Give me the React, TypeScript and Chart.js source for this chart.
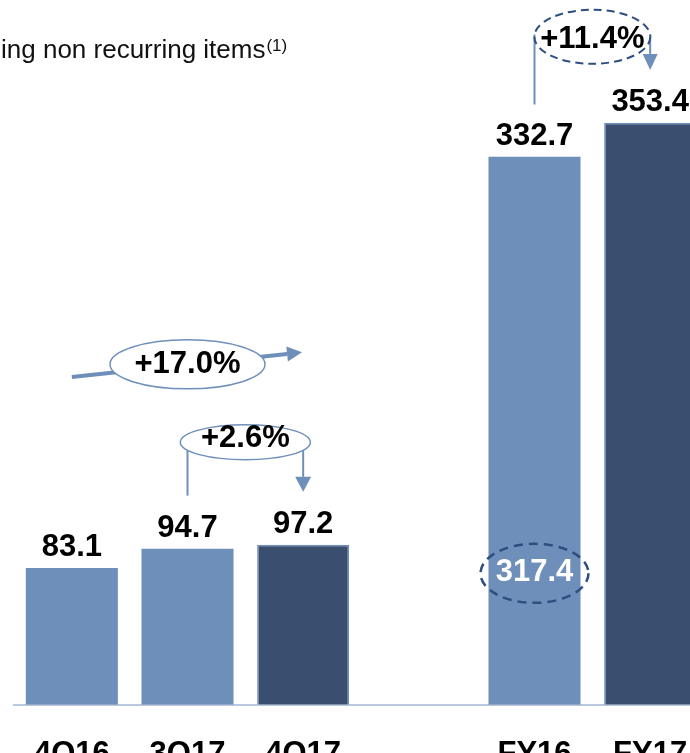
import React, { useEffect, useRef } from "react";
import { Chart, registerables } from "chart.js";

Chart.register(...registerables);

const categories = ["4Q16", "3Q17", "4Q17", "", "FY16", "FY17"];
const values: (number | null)[] = [83.1, 94.7, 97.2, null, 332.7, 353.4];
const valueLabels = ["83.1", "94.7", "97.2", "", "332.7", "353.4"];
const isCurrent = [false, false, true, false, false, true];
const titleText = "ing non recurring items";
const titleNote = "(1)";
const growthQoQ = "+2.6%";
const growthYoY = "+17.0%";
const growthFY = "+11.4%";
const reportedFY16 = "317.4";

const LIGHT = "#6f8fbb";
const DARK = "#3a4e6f";
const DASH_BLUE = "#2d4f80";
const FONT = '"Liberation Sans", Arial, sans-serif';

function arrowLine(
  ctx: CanvasRenderingContext2D,
  x1: number, y1: number, x2: number, y2: number,
  lw: number, headLen: number, headW: number, color: string
) {
  const ang = Math.atan2(y2 - y1, x2 - x1);
  const bx = x2 - Math.cos(ang) * headLen;
  const by = y2 - Math.sin(ang) * headLen;
  ctx.save();
  ctx.strokeStyle = color;
  ctx.fillStyle = color;
  ctx.lineWidth = lw;
  ctx.beginPath();
  ctx.moveTo(x1, y1);
  ctx.lineTo(bx, by);
  ctx.stroke();
  const px = -Math.sin(ang) * headW / 2;
  const py = Math.cos(ang) * headW / 2;
  ctx.beginPath();
  ctx.moveTo(x2, y2);
  ctx.lineTo(bx + px, by + py);
  ctx.lineTo(bx - px, by - py);
  ctx.closePath();
  ctx.fill();
  ctx.restore();
}

function ellipse(
  ctx: CanvasRenderingContext2D, cx: number, cy: number, rx: number, ry: number,
  stroke: string, lw: number, dash: number[], fill: string | null
) {
  ctx.save();
  ctx.beginPath();
  ctx.ellipse(cx, cy, rx, ry, 0, 0, Math.PI * 2);
  if (fill) {
    ctx.fillStyle = fill;
    ctx.fill();
  }
  ctx.setLineDash(dash);
  ctx.strokeStyle = stroke;
  ctx.lineWidth = lw;
  ctx.stroke();
  ctx.restore();
}

function label(ctx: CanvasRenderingContext2D, text: string, x: number, y: number, color = "#000") {
  ctx.save();
  ctx.font = `bold 31px ${FONT}`;
  ctx.fillStyle = color;
  ctx.textAlign = "center";
  ctx.textBaseline = "middle";
  ctx.fillText(text, x, y);
  ctx.restore();
}

const annotationPlugin = {
  id: "annotations",
  afterDatasetsDraw(chart: any) {
    const ctx: CanvasRenderingContext2D = chart.ctx;
    const xs = chart.scales.x;
    const ys = chart.scales.y;
    const X = (i: number) => xs.getPixelForValue(i);
    const Y = (v: number) => ys.getPixelForValue(v);

    // value labels above bars
    const meta = chart.getDatasetMeta(0);
    ctx.save();
    ctx.font = `bold 31px ${FONT}`;
    ctx.fillStyle = "#000";
    ctx.textAlign = "center";
    ctx.textBaseline = "alphabetic";
    meta.data.forEach((bar: any, i: number) => {
      if (values[i] == null) return;
      ctx.fillText(valueLabels[i], bar.x, bar.y - 12);
    });
    ctx.restore();

    // +17.0% (4Q16 -> 4Q17)
    arrowLine(ctx, X(0), Y(199), X(1.99), Y(214), 4, 15, 15, LIGHT);
    ellipse(ctx, X(1), Y(206.7), 77.5, 24.5, LIGHT, 1.5, [], "#fff");
    label(ctx, growthYoY, X(1), Y(206.7));

    // +2.6% (3Q17 -> 4Q17)
    ctx.save();
    ctx.strokeStyle = LIGHT;
    ctx.lineWidth = 2;
    ctx.beginPath();
    ctx.moveTo(X(1), Y(127));
    ctx.lineTo(X(1), Y(159.4));
    ctx.stroke();
    ctx.restore();
    arrowLine(ctx, X(2), Y(159.4), X(2), Y(129.3), 2, 15, 16, LIGHT);
    ellipse(ctx, X(1.5), Y(159.4), 65, 17.5, LIGHT, 1.5, [], "#fff");
    label(ctx, growthQoQ, X(1.5), Y(161.5));

    // +11.4% (FY16 -> FY17)
    ctx.save();
    ctx.strokeStyle = LIGHT;
    ctx.lineWidth = 2;
    ctx.beginPath();
    ctx.moveTo(X(4), Y(364.5));
    ctx.lineTo(X(4), Y(407));
    ctx.stroke();
    ctx.restore();
    arrowLine(ctx, X(5), Y(405.6), X(5), Y(385.5), 2, 16, 15, LIGHT);
    ellipse(ctx, X(4.5), Y(405.6), 58, 27, DASH_BLUE, 2, [8, 5], null);
    label(ctx, growthFY, X(4.5), Y(404));

    // reported FY16 inside bar
    ellipse(ctx, X(4), Y(79.8), 54, 29.5, DASH_BLUE, 2.5, [9, 6], null);
    label(ctx, reportedFY16, X(4), Y(80.5), "#fff");

    // title fragment
    ctx.save();
    ctx.fillStyle = "#111";
    ctx.textAlign = "left";
    ctx.textBaseline = "alphabetic";
    ctx.font = `26px ${FONT}`;
    ctx.fillText(titleText, 1, 58);
    const w = ctx.measureText(titleText).width;
    ctx.font = `17px ${FONT}`;
    ctx.fillText(titleNote, 1 + w + 1, 51);
    ctx.restore();
  },
};

export default function App() {
  const ref = useRef<HTMLCanvasElement | null>(null);
  useEffect(() => {
    if (!ref.current) return;
    const chart = new Chart(ref.current, {
      type: "bar",
      data: {
        labels: categories,
        datasets: [
          {
            data: values as any,
            backgroundColor: isCurrent.map((c) => (c ? DARK : LIGHT)),
            borderColor: isCurrent.map((c) => (c ? LIGHT : LIGHT)),
            borderWidth: isCurrent.map((c) => (c ? 1.5 : 0)),
            categoryPercentage: 1,
            barPercentage: 92 / 115.6,
          },
        ],
      },
      options: {
        responsive: false,
        animation: false,
        events: [],
        layout: { padding: { left: 14, right: 32, top: 46, bottom: 0 } },
        plugins: { legend: { display: false }, tooltip: { enabled: false }, title: { display: false } },
        scales: {
          x: {
            grid: { display: false, drawTicks: false },
            border: { display: true, color: "#b9c8de", width: 2 },
            ticks: {
              color: "#000",
              padding: 31,
              maxRotation: 0,
              autoSkip: false,
              font: { family: FONT, size: 31, weight: "bold" },
            },
          },
          y: { display: false, min: 0, max: 400 },
        },
      },
      plugins: [annotationPlugin],
    });
    return () => chart.destroy();
  }, []);
  return (
    <div
      style={{
        position: "fixed",
        left: 0,
        top: 0,
        width: 690,
        height: 753,
        overflow: "hidden",
        background: "#fff",
      }}
    >
      <canvas ref={ref} width={740} height={804} style={{ display: "block" }} />
    </div>
  );
}
